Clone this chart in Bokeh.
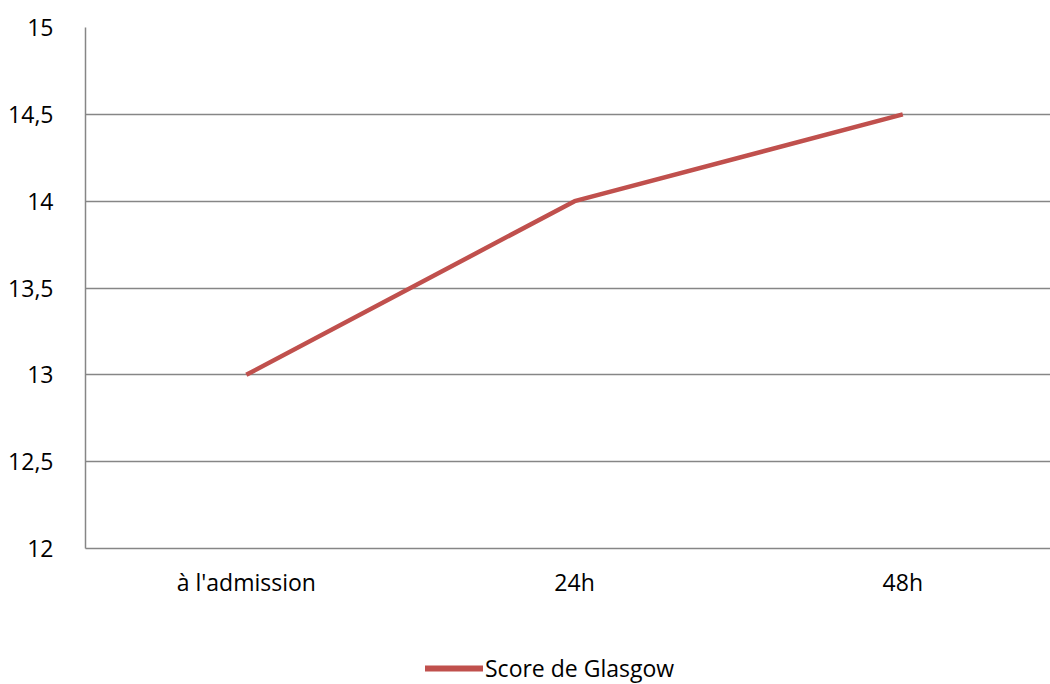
from bokeh.plotting import figure
from bokeh.layouts import column
from bokeh.models import Range1d, FixedTicker, Legend, LegendItem
from bokeh.embed import file_html
from bokeh.resources import INLINE

# Glasgow coma score over time
categories = ["à l'admission", "24h", "48h"]
glasgow_score = [13, 14, 14.5]
y_ticks = [12, 12.5, 13, 13.5, 14, 14.5, 15]
y_tick_labels = ["12", "12,5", "13", "13,5", "14", "14,5", "15"]
series_name = "Score de Glasgow"

FONT = "Open Sans"
GRID = "#868686"
LINE = "#C0504D"

xs = list(range(len(categories)))

p = figure(
    width=1050, height=620,
    output_backend="svg", toolbar_location=None,
    x_range=Range1d(-0.49, 2.45), y_range=Range1d(12, 15),
    min_border_left=85, min_border_right=0,
    min_border_top=27, min_border_bottom=72,
)
p.outline_line_color = None
p.background_fill_color = "white"
p.border_fill_color = "white"

# axes
p.xaxis.ticker = FixedTicker(ticks=xs)
p.xaxis.major_label_overrides = {i: c for i, c in enumerate(categories)}
p.yaxis.ticker = FixedTicker(ticks=y_ticks)
p.yaxis.major_label_overrides = dict(zip(y_ticks, y_tick_labels))
for ax in (p.xaxis, p.yaxis):
    ax.axis_line_color = GRID
    ax.axis_line_width = 1.5
    ax.major_tick_line_color = None
    ax.minor_tick_line_color = None
    ax.major_label_text_font = FONT
    ax.major_label_text_font_size = "23px"
    ax.major_label_text_color = "black"
p.xaxis.major_label_standoff = 11
p.yaxis.major_label_standoff = 26

p.xgrid.grid_line_color = None
p.ygrid.grid_line_color = GRID
p.ygrid.grid_line_width = 1.5

p.line(xs, glasgow_score, line_color=LINE, line_width=4.5)

# legend strip underneath the chart; its key line sits outside the strip's ranges
leg = figure(
    width=1050, height=64,
    output_backend="svg", toolbar_location=None,
    x_range=Range1d(0, 1), y_range=Range1d(0, 1),
    min_border=0,
)
leg.outline_line_color = None
leg.axis.visible = False
leg.grid.visible = False
key = leg.line(xs, glasgow_score, line_color=LINE, line_width=6, line_cap="round")

legend = Legend(
    items=[LegendItem(label=series_name, renderers=[key])],
    location=(340, 0),
    orientation="horizontal",
    padding=0, margin=0, spacing=0,
    glyph_width=58, glyph_height=24, label_height=24,
    label_standoff=2,
    label_text_font=FONT, label_text_font_size="23px",
    label_text_color="black",
    border_line_color=None, background_fill_alpha=0,
)
leg.add_layout(legend, "center")

layout = column(p, leg, spacing=0)
open("out.html", "w").write(file_html(layout, INLINE))
